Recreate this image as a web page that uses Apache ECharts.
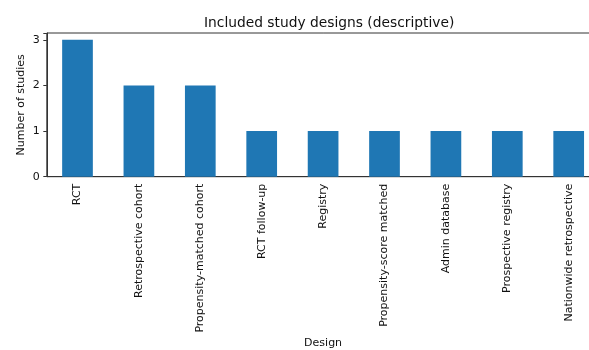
<!DOCTYPE html>
<html><head><meta charset="utf-8">
<script src="https://cdn.jsdelivr.net/npm/echarts@6/dist/echarts.min.js"></script>
<style>html,body{margin:0;padding:0;background:#fff;overflow:hidden;width:589px;height:350px}#c{width:600px;height:350px}</style>
</head><body><div id="c"></div>
<script>
const categories = ["RCT","Retrospective cohort","Propensity-matched cohort","RCT follow-up","Registry","Propensity-score matched","Admin database","Prospective registry","Nationwide retrospective"];
const counts = [3,2,2,1,1,1,1,1,1];
const yTicks = [0,1,2,3];

const font = "DejaVu Sans";
const chart = echarts.init(document.getElementById('c'), null, {renderer:'canvas'});
chart.setOption({
  animation:false,
  title:{text:"Included study designs (descriptive)", left:199, top:11,
    textStyle:{fontFamily:font, fontSize:13.8, fontWeight:'normal', color:'#111'}},
  grid:{left:46.8, top:33, bottom:173.3, right:0.6, show:true, borderColor:'#333', borderWidth:1, containLabel:false},
  xAxis:{type:'category', data:categories,
    name:'Design', nameLocation:'middle', nameGap:161, nameMoveOverlap:false,
    nameTextStyle:{fontFamily:font, fontSize:11, color:'#111'},
    axisLine:{lineStyle:{color:'#333', width:1}},
    axisTick:{alignWithLabel:true, length:3.5, lineStyle:{color:'#333'}},
    axisLabel:{rotate:90, interval:0, margin:7, fontFamily:font, fontSize:11, color:'#111'}},
  yAxis:{type:'value', min:0, max:3.15, interval:1,
    name:'Number of studies', nameLocation:'middle', nameGap:20, nameMoveOverlap:false,
    nameTextStyle:{fontFamily:font, fontSize:11, color:'#111'},
    axisLine:{show:true, lineStyle:{color:'#333', width:1}},
    axisTick:{show:true, length:3.5, lineStyle:{color:'#333'}},
    splitLine:{show:false},
    axisLabel:{margin:7, fontFamily:font, fontSize:11, color:'#111',
      formatter:v=> yTicks.includes(v) ? String(v) : ''}},
  series:[{type:'bar', data:counts, barWidth:'50%', itemStyle:{color:'#1f77b4'}}]
});
</script></body></html>
